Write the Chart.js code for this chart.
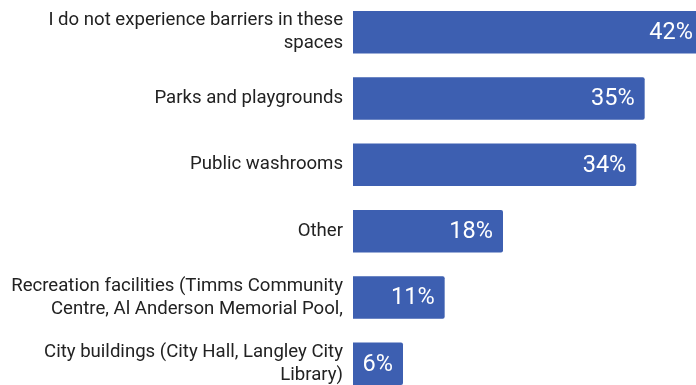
<!DOCTYPE html>
<html>
<head>
<meta charset="utf-8">
<script src="https://cdn.jsdelivr.net/npm/chart.js@4"></script>
<style>
    html, body { margin: 0; padding: 0; background: #fff; overflow: hidden; }
    #wrap { position: absolute; left: 0; top: -1px; width: 703px; height: 398px; }
</style>
</head>
<body>
<div id="wrap"><canvas id="barrierChart"></canvas></div>
<script>
// Spaces where respondents experience barriers (% of respondents)
const spaceLabels = [
    ['I do not experience barriers in these', 'spaces'],
    'Parks and playgrounds',
    'Public washrooms',
    'Other',
    ['Recreation facilities (Timms Community', 'Centre, Al Anderson Memorial Pool,'],
    ['City buildings (City Hall, Langley City', 'Library)']
];
const percentValues = [42, 35, 34, 18, 11, 6];

const BAR_COLOR = '#3d5fb1';

// writes "NN%" inside the right end of each bar
const valueLabels = {
    id: 'valueLabels',
    afterDatasetsDraw(chart) {
        const ctx = chart.ctx;
        const meta = chart.getDatasetMeta(0);
        ctx.save();
        ctx.font = '23.5px Roboto';
        ctx.fillStyle = '#ffffff';
        ctx.textAlign = 'right';
        ctx.textBaseline = 'middle';
        meta.data.forEach(function(bar, i) {
            ctx.fillText(percentValues[i] + '%', bar.x - 10, bar.y + 1);
        });
        ctx.restore();
    }
};

const ctx = document.getElementById('barrierChart').getContext('2d');

new Chart(ctx, {
    type: 'bar',
    data: {
        labels: spaceLabels,
        datasets: [{
            data: percentValues,
            backgroundColor: BAR_COLOR,
            borderWidth: 0,
            borderRadius: 2,
            borderSkipped: 'start',
            categoryPercentage: 0.8,
            barPercentage: 0.8
        }]
    },
    options: {
        indexAxis: 'y',
        responsive: true,
        maintainAspectRatio: false,
        animation: false,
        layout: { padding: 0 },
        plugins: {
            legend: { display: false },
            tooltip: { enabled: false }
        },
        scales: {
            x: {
                display: false,
                min: 0,
                max: 42
            },
            y: {
                grid: { display: false, drawTicks: false },
                border: { display: false },
                ticks: {
                    color: '#222222',
                    padding: 10,
                    font: { family: 'Roboto', size: 18.6, lineHeight: 1.25 }
                },
                afterFit(scale) {
                    // fixed label column; no extra room for the outer labels
                    scale.width = 353;
                    scale.paddingTop = 0;
                    scale.paddingBottom = 0;
                }
            }
        }
    },
    plugins: [valueLabels]
});
</script>
</body>
</html>
